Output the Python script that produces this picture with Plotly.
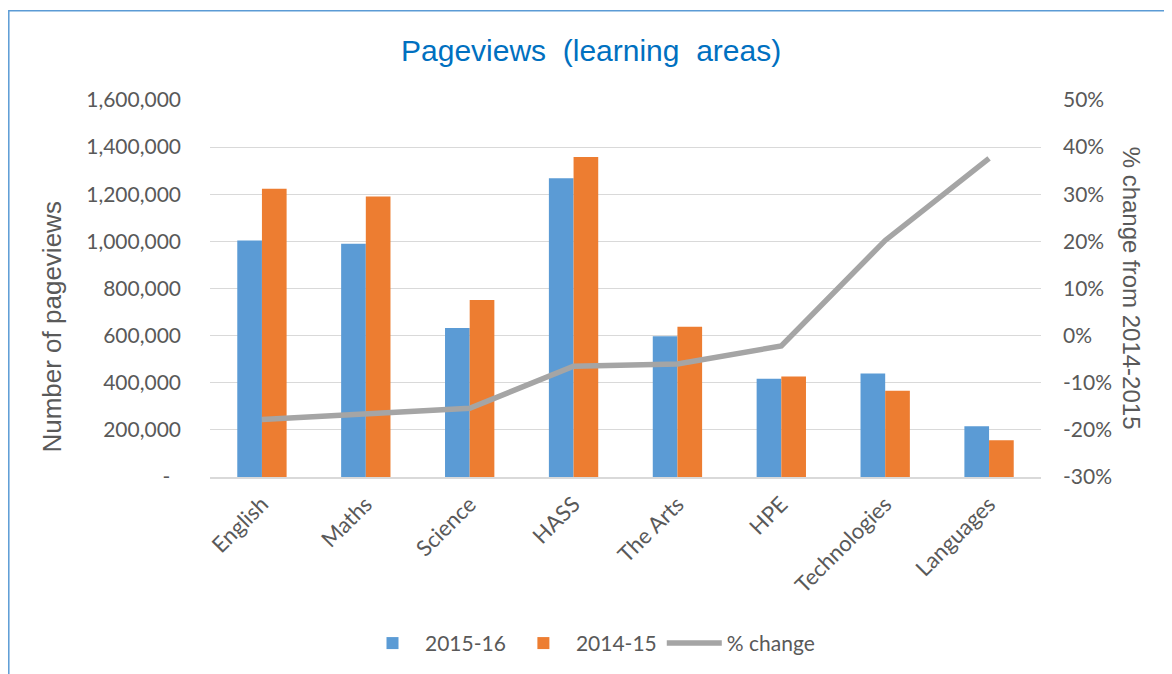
import plotly.graph_objects as go

categories = ["English", "Maths", "Science", "HASS", "The Arts", "HPE", "Technologies", "Languages"]
views_2015_16 = [1004000, 990000, 632000, 1268000, 597000, 417000, 439000, 215000]
views_2014_15 = [1223000, 1190000, 751000, 1358000, 638000, 426000, 366000, 156000]
pct_change = [-17.8, -16.6, -15.4, -6.5, -6.0, -2.2, 20.2, 37.6]

left_tickvals = [0, 200000, 400000, 600000, 800000, 1000000, 1200000, 1400000, 1600000]
left_ticktext = ["-\u00a0\u00a0"] + [f"{v:,}" for v in left_tickvals[1:]]
right_tickvals = [-30, -20, -10, 0, 10, 20, 30, 40, 50]
right_ticktext = [f"{v}%" for v in right_tickvals]

# page has an 8px body margin; work in page pixel coordinates and convert
OFF = 8
W, H = 1172 - OFF, 674 - OFF
L, R, T, B = 210, 1041, 100, 477.7  # plot area in page pixels

def px(x):
    return (x - L) / (R - L)

def py(y):
    return (B - y) / (B - T)

GRAY = "#595959"
YFONT = dict(family="Lato, Carlito, sans-serif", size=21, color=GRAY)
XFONT = dict(family="Lato, Carlito, sans-serif", size=22, color=GRAY)
LFONT = dict(family="Lato, Carlito, sans-serif", size=21, color=GRAY)
ARIAL = "Liberation Sans, Arial, sans-serif"

fig = go.Figure()
fig.add_trace(go.Bar(x=categories, y=views_2015_16, name="2015-16",
                     marker=dict(color="#5B9BD5", line=dict(width=0))))
fig.add_trace(go.Bar(x=categories, y=views_2014_15, name="2014-15",
                     marker=dict(color="#ED7D31", line=dict(width=0))))
fig.add_trace(go.Scatter(x=categories, y=pct_change, name="% change", yaxis="y2",
                         mode="lines", line=dict(color="#A5A5A5", width=5.5)))

fig.update_layout(
    width=W, height=H,
    margin=dict(l=L - OFF, r=W - (R - OFF), t=T - OFF, b=H - (B - OFF), pad=0),
    paper_bgcolor="white", plot_bgcolor="white",
    barmode="group", bargap=0.525, bargroupgap=0,
    showlegend=True,
    legend=dict(orientation="h", x=px(590), y=py(643), xanchor="center", yanchor="middle",
                font=LFONT, itemwidth=55, traceorder="normal"),
    xaxis=dict(tickangle=-45, tickfont=XFONT, showgrid=False, showline=True,
               linecolor="#D9D9D9", linewidth=1.5, ticks="", ticklabelstandoff=4),
    yaxis=dict(range=[0, 1600000], tickvals=left_tickvals, ticktext=left_ticktext,
               tickfont=YFONT, showgrid=True, gridcolor="#D9D9D9", gridwidth=1.3,
               zeroline=False, showline=False, ticks="", ticklabelstandoff=28),
    yaxis2=dict(range=[-30, 50], tickvals=right_tickvals, ticktext=right_ticktext,
                overlaying="y", side="right", tickfont=YFONT, showgrid=False,
                zeroline=False, showline=False, ticks="", ticklabelstandoff=21),
    annotations=[
        dict(text="Pageviews  (learning  areas)", x=px(591), y=py(50), xref="paper", yref="paper",
             showarrow=False, xanchor="center", yanchor="middle",
             font=dict(family=ARIAL, size=30, color="#0070C0")),
        dict(text="Number of pageviews", x=px(52), y=py(328), xref="paper", yref="paper",
             showarrow=False, xanchor="center", yanchor="middle", textangle=-90,
             font=dict(family=ARIAL, size=26, color=GRAY)),
        dict(text="% change from 2014-2015", x=px(1131), y=py(288), xref="paper", yref="paper",
             showarrow=False, xanchor="center", yanchor="middle", textangle=90,
             font=dict(family=ARIAL, size=24, color=GRAY)),
    ],
    shapes=[
        dict(type="rect", xref="paper", yref="paper",
             x0=px(OFF + 0.8), x1=px(1190), y0=py(700), y1=py(10.5),
             line=dict(color="#5B9BD5", width=1.5), fillcolor="rgba(0,0,0,0)", layer="below"),
    ],
)

fig.write_html("out.html")
